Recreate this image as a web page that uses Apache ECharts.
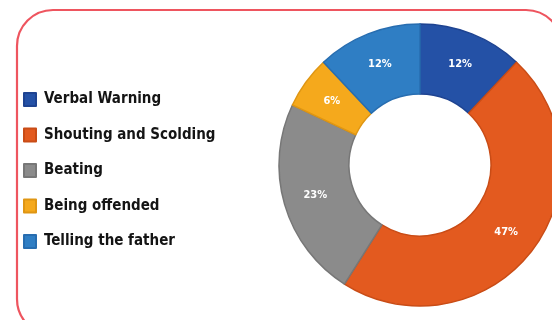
<!DOCTYPE html>
<html>
<head>
<meta charset="utf-8">
<style>
  html, body { margin: 0; padding: 0; background: #ffffff; }
  #chart { width: 552px; height: 320px; }
</style>
<script src="https://cdn.jsdelivr.net/npm/echarts@6/dist/echarts.min.js"></script>
</head>
<body>
<div id="chart"></div>
<script>
// Reactions reported, share of responses (%)
const categories = ['Verbal Warning', 'Shouting and Scolding', 'Beating', 'Being offended', 'Telling the father'];
const shares = [12, 47, 23, 6, 12];
const fills = ['#2451a6', '#e35a1f', '#8b8b8b', '#f5a91c', '#2f7ec4'];
const edges = ['#1e4391', '#c94c16', '#777777', '#df9613', '#276db0'];

const condensed = '"DejaVu Sans Condensed", "Liberation Sans Narrow", "Arial Narrow", sans-serif';

const chart = echarts.init(document.getElementById('chart'), null, { renderer: 'canvas' });

chart.setOption({
  animation: false,
  backgroundColor: '#ffffff',
  graphic: [{
    type: 'rect',
    shape: { x: 17, y: 10, width: 545, height: 325, r: 36 },
    style: { fill: 'none', stroke: '#ee555f', lineWidth: 2.2 },
    silent: true
  }],
  legend: {
    orient: 'vertical',
    left: 23,
    top: 92,
    padding: 0,
    icon: 'rect',
    itemWidth: 12,
    itemHeight: 13,
    itemGap: 20.5,
    textStyle: {
      fontFamily: condensed,
      fontWeight: 'bold',
      fontSize: 15,
      lineHeight: 13,
      color: '#141414',
      padding: [0, 0, 0, 3]
    },
    data: categories
  },
  series: [{
    type: 'pie',
    center: [420, 165],
    radius: [71, 141],
    startAngle: 90,
    clockwise: true,
    avoidLabelOverlap: false,
    label: {
      show: true,
      position: 'inside',
      formatter: '{c}%',
      color: '#ffffff',
      fontFamily: condensed,
      fontWeight: 'bold',
      fontSize: 11
    },
    labelLine: { show: false },
    emphasis: { disabled: true },
    data: categories.map((name, i) => ({
      name: name,
      value: shares[i],
      itemStyle: { color: fills[i], borderColor: edges[i], borderWidth: 1.5 }
    }))
  }]
});
</script>
</body>
</html>
